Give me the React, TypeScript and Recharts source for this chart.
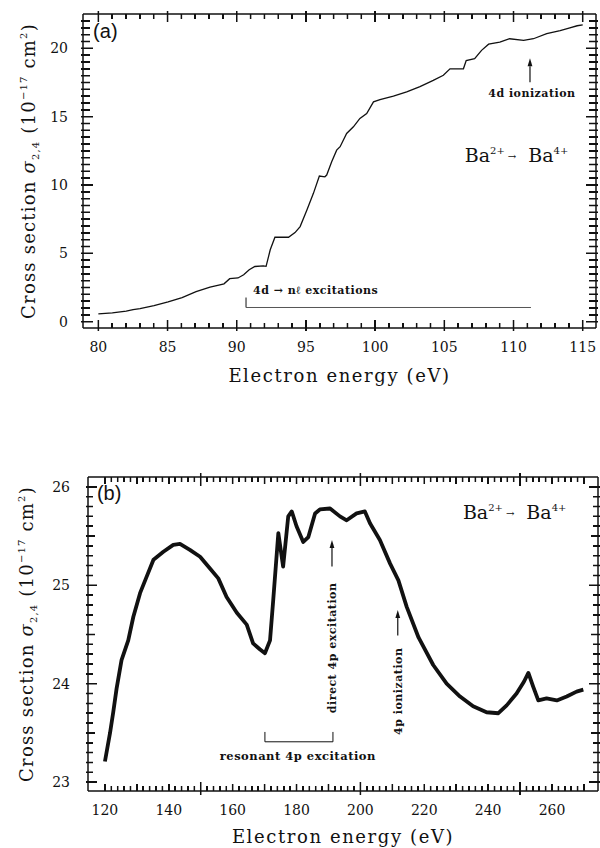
import React from 'react'
import { LineChart, Line, XAxis, YAxis, ReferenceLine, ReferenceDot } from 'recharts'

// (a) Ba2+ -> Ba4+ near the 4d threshold
const panelAEnergy = [
  80.0, 81.01, 82.01, 82.51, 83.01, 84.02, 85.04, 86.05, 87.06, 88.07, 88.78, 89.08, 89.49, 90.09,
  90.5, 90.9, 91.31, 91.92, 92.12, 92.42, 92.76, 93.13, 93.74, 94.21, 94.58, 95.07, 95.54, 95.97,
  96.37, 96.5, 96.86, 97.22, 97.47, 97.94, 98.43, 98.9, 99.39, 99.88, 100.35, 101.32, 102.28,
  103.24, 104.2, 104.93, 105.41, 106.38, 106.58, 107.19, 107.69, 108.2, 109.01, 109.72, 110.73,
  111.44, 112.4, 113.37, 114.07, 114.6, 115.0,
]
const panelASigma = [
  0.58, 0.65, 0.78, 0.88, 0.95, 1.17, 1.45, 1.77, 2.2, 2.53, 2.7, 2.77, 3.15, 3.2,
  3.43, 3.8, 4.04, 4.09, 4.05, 5.26, 6.18, 6.18, 6.18, 6.52, 6.96, 8.18, 9.39, 10.66,
  10.6, 10.73, 11.7, 12.55, 12.8, 13.77, 14.26, 14.87, 15.23, 16.08, 16.25, 16.5, 16.81,
  17.2, 17.66, 18.03, 18.5, 18.5, 19.1, 19.25, 19.85, 20.3, 20.46, 20.7, 20.58,
  20.7, 21.07, 21.3, 21.5, 21.65, 21.72,
]

// (b) Ba2+ -> Ba4+ around the 4p region
const panelBEnergy = [
  120.0, 121.6, 122.6, 123.65, 125.2, 127.3, 128.9, 131.0, 133.1, 135.2, 138.3, 141.4, 143.5,
  146.6, 149.8, 152.9, 155.5, 158.1, 161.3, 164.4, 166.4, 168.5, 170.1, 171.7, 172.7, 174.3,
  175.8, 177.4, 178.5, 180.0, 182.1, 183.7, 185.8, 187.3, 190.5, 193.6, 195.7, 198.8, 201.4,
  203.0, 206.1, 209.3, 211.9, 214.5, 218.2, 222.8, 227.0, 231.2, 235.3, 239.5, 243.2, 245.8,
  248.9, 251.2, 252.6, 254.1, 255.7, 258.3, 261.5, 264.6, 267.7, 269.8,
]
const panelBSigma = [
  23.21, 23.5, 23.71, 23.95, 24.24, 24.44, 24.68, 24.92, 25.09, 25.26, 25.34, 25.41, 25.42,
  25.36, 25.29, 25.17, 25.07, 24.88, 24.72, 24.6, 24.41, 24.35, 24.31, 24.44, 24.85, 25.53,
  25.19, 25.7, 25.75, 25.6, 25.44, 25.49, 25.73, 25.77, 25.78, 25.7, 25.66, 25.73, 25.75,
  25.63, 25.46, 25.22, 25.05, 24.78, 24.47, 24.19, 24.0, 23.87, 23.77, 23.71, 23.7, 23.78,
  23.9, 24.02, 24.11, 23.97, 23.83, 23.85, 23.83, 23.87, 23.92, 23.94,
]

const panelAXLabels = [80, 85, 90, 95, 100, 105, 110, 115]
const panelAYLabels = [0, 5, 10, 15, 20]
const panelBXLabels = [120, 140, 160, 180, 200, 220, 240, 260]
const panelBYLabels = [23, 24, 25, 26]

const INK = '#111'
const SERIF = "'DejaVu Serif', serif"
const SANS = "'Liberation Sans', sans-serif"

const range = (a: number, b: number, step: number) => {
  const out: number[] = []
  for (let i = 0; a + i * step <= b + 1e-9; i++) out.push(+(a + i * step).toFixed(3))
  return out
}
const onStep = (v: number, m: number) => Math.abs(v / m - Math.round(v / m)) < 1e-6

// axis labels (major values only)
const xLabel = (p: any) => (
  <text x={p.x} y={Number(p.y) + 24} textAnchor="middle" fontFamily={SERIF} fontSize={14} fill={INK}>{p.payload.value}</text>
)
const yLabel = (gap: number) => (p: any) => (
  <text x={Number(p.x) - gap} y={Number(p.y) + 5} textAnchor="end" fontFamily={SERIF} fontSize={14} fill={INK}>{Math.round(p.payload.value)}</text>
)

type Frame = { x: [number, number]; y: [number, number] }
type Box = { left: number; right: number; top: number; bottom: number }
type TickSpec = {
  frame: Frame
  xt: number[]
  yt: number[]
  xLen: (v: number) => number
  yLen: (v: number) => number
  xOut: (v: number) => number
  yOut: (v: number) => number
}

// tick marks from one reference segment running first tick -> last tick (axis scales give its ends)
const frameTicks = (s: TickSpec) => (p: any) => {
  const { x1, y1, x2, y2 } = p
  const ax0 = s.xt[0]
  const ax1 = s.xt[s.xt.length - 1]
  const ay0 = s.yt[0]
  const ay1 = s.yt[s.yt.length - 1]
  const X = (v: number) => x1 + ((v - ax0) / (ax1 - ax0)) * (x2 - x1)
  const Y = (v: number) => y1 + ((v - ay0) / (ay1 - ay0)) * (y2 - y1)
  const L = X(s.frame.x[0])
  const R = X(s.frame.x[1])
  const B = Y(s.frame.y[0])
  const T = Y(s.frame.y[1])
  let d = ''
  s.xt.forEach((v) => {
    const x = X(v).toFixed(2)
    d += `M${x},${B + s.xOut(v)}V${B - s.xLen(v)}M${x},${T - s.xOut(v)}V${T + s.xLen(v)}`
  })
  s.yt.forEach((v) => {
    const y = Y(v).toFixed(2)
    d += `M${L - s.yOut(v)},${y}H${L + s.yLen(v)}M${R + s.yOut(v)},${y}H${R - s.yLen(v)}`
  })
  return <path d={d} stroke={INK} strokeWidth={1.5} fill="none" />
}

// same tick marks laid over the page as plain blocks, on the plot box of each chart
function TickOverlay({ s, box }: { s: TickSpec; box: Box }) {
  const X = (v: number) => box.left + ((v - s.frame.x[0]) / (s.frame.x[1] - s.frame.x[0])) * (box.right - box.left)
  const Y = (v: number) => box.bottom - ((v - s.frame.y[0]) / (s.frame.y[1] - s.frame.y[0])) * (box.bottom - box.top)
  const marks: { left: number; top: number; width: number; height: number }[] = []
  s.xt.forEach((v) => {
    const x = X(v)
    const len = s.xLen(v)
    const out = s.xOut(v)
    marks.push({ left: x - 0.75, top: box.bottom - len, width: 1.5, height: len + out })
    marks.push({ left: x - 0.75, top: box.top - out, width: 1.5, height: len + out })
  })
  s.yt.forEach((v) => {
    const y = Y(v)
    const len = s.yLen(v)
    const out = s.yOut(v)
    marks.push({ left: box.left - out, top: y - 0.75, width: len + out, height: 1.5 })
    marks.push({ left: box.right - len, top: y - 0.75, width: len + out, height: 1.5 })
  })
  return (
    <>
      {marks.map((m, i) => (
        <div key={i} style={{ position: 'absolute', background: INK, ...m }} />
      ))}
    </>
  )
}

const xTitle = (offset: number) => (p: any) => {
  const vb = p.viewBox || { x: 0, y: 0, width: 0, height: 0 }
  return (
    <text x={vb.x + vb.width / 2} y={vb.y + offset} textAnchor="middle" fontFamily={SERIF} fontSize={18} letterSpacing={1.6} fill={INK}>
      Electron energy (eV)
    </text>
  )
}

const yTitle = (baseX: number) => (p: any) => {
  const vb = p.viewBox || { x: 0, y: 0, width: 0, height: 0 }
  const cy = vb.y + vb.height / 2
  return (
    <text transform={`translate(${vb.x + baseX},${cy}) rotate(-90)`} textAnchor="middle" fontFamily={SERIF} fontSize={18} letterSpacing={1.2} fill={INK}>
      Cross section <tspan fontStyle="italic">σ</tspan>
      <tspan fontSize={10} dy={4}>2,4</tspan>
      <tspan dy={-4}>{'  '}(10</tspan>
      <tspan fontSize={10} dy={-8}>−17</tspan>
      <tspan dy={8}> cm</tspan>
      <tspan fontSize={10} dy={-8}>2</tspan>
      <tspan dy={8}>)</tspan>
    </text>
  )
}

const note = (text: string, opts: { anchor?: string; rotate?: boolean; size?: number } = {}) => (p: any) => (
  <text
    x={p.cx}
    y={p.cy}
    transform={opts.rotate ? `rotate(-90 ${p.cx} ${p.cy})` : undefined}
    textAnchor={opts.anchor || 'start'}
    fontFamily={SERIF}
    fontWeight="bold"
    fontSize={opts.size || 11}
    letterSpacing={0.5}
    fill={INK}
  >
    {text}
  </text>
)

const reaction = (p: any) => (
  <text x={p.cx} y={p.cy} fontFamily={SERIF} fontSize={19} fill={INK}>
    Ba<tspan fontSize={10} dy={-8}>2+</tspan>
    <tspan fontSize={10} dx={3} dy={6}>→</tspan>
    <tspan dx={12} dy={2}>Ba</tspan>
    <tspan fontSize={10} dy={-8}>4+</tspan>
  </text>
)

const panelTag = (tag: string) => (p: any) => (
  <text x={p.cx} y={p.cy} fontFamily={SANS} fontSize={20} fill={INK}>{tag}</text>
)

const arrowShape = (p: any) => {
  const { x1, y1, x2, y2 } = p
  const ang = Math.atan2(y2 - y1, x2 - x1)
  const L = 8
  const W = 2.4
  const bx = x2 - L * Math.cos(ang)
  const by = y2 - L * Math.sin(ang)
  const nx = -Math.sin(ang) * W
  const ny = Math.cos(ang) * W
  return (
    <g>
      <line x1={x1} y1={y1} x2={bx} y2={by} stroke={INK} strokeWidth={1.2} />
      <polygon points={`${x2},${y2} ${bx + nx},${by + ny} ${bx - nx},${by - ny}`} fill={INK} />
    </g>
  )
}

const dataA = panelAEnergy.map((e, i) => ({ e, s: panelASigma[i] }))
const dataB = panelBEnergy.map((e, i) => ({ e, s: panelBSigma[i] }))

const frameA: Frame = { x: [78.89, 115.96], y: [-0.46, 22.51] }
const frameB: Frame = { x: [114.7, 274.4], y: [22.91, 26.1] }

// plot boxes on the page (chart size minus axis widths/heights, plus the chart's top offset)
const boxA: Box = { left: 83, right: 596, top: 14, bottom: 328 }
const boxB: Box = { left: 88, right: 598, top: 477, bottom: 791 }

const ticksA: TickSpec = {
  frame: frameA,
  xt: range(80, 115, 1),
  yt: range(0, 22, 0.5),
  xLen: (v) => (onStep(v, 5) ? 8 : 5),
  yLen: (v) => (onStep(v, 5) ? 10 : 7),
  xOut: (v) => (onStep(v, 5) ? 3 : 0),
  yOut: () => 2,
}
const ticksB: TickSpec = {
  frame: frameB,
  xt: range(120, 270, 2),
  yt: range(23, 26, 0.1),
  xLen: (v) => (onStep(v, 50) ? 9 : onStep(v, 10) ? 7 : 5),
  yLen: (v) => (onStep(v, 1) ? 9 : onStep(v, 0.5) ? 7 : 5),
  xOut: (v) => (onStep(v, 50) ? 4 : 0),
  yOut: () => 2,
}
const tickSegment = (s: TickSpec) => [
  { x: s.xt[0], y: s.yt[0] },
  { x: s.xt[s.xt.length - 1], y: s.yt[s.yt.length - 1] },
]

const axisCommon = { type: 'number' as const, allowDataOverflow: true, interval: 0, tickSize: 0, tickMargin: 0, tickLine: false, axisLine: { stroke: INK, strokeWidth: 1.5 } }

function PanelA() {
  return (
    <LineChart width={600} height={400} data={dataA} margin={{ top: 0, right: 0, bottom: 0, left: 0 }}>
      <XAxis {...axisCommon} dataKey="e" domain={frameA.x} ticks={panelAXLabels} height={72} tick={xLabel} label={xTitle(54)} />
      <XAxis {...axisCommon} xAxisId="t" orientation="top" dataKey="e" domain={frameA.x} ticks={panelAXLabels} height={14} tick={false} />
      <YAxis {...axisCommon} domain={frameA.y} ticks={panelAYLabels} width={83} tick={yLabel(15)} label={yTitle(35)} />
      <YAxis {...axisCommon} yAxisId="r" orientation="right" domain={frameA.y} ticks={panelAYLabels} width={4} tick={false} />
      <ReferenceLine segment={tickSegment(ticksA)} shape={frameTicks(ticksA)} />
      <Line dataKey="s" type="linear" stroke={INK} strokeWidth={1.3} dot={false} isAnimationActive={false} />
      <ReferenceLine segment={[{ x: 90.67, y: 1.77 }, { x: 90.67, y: 1.04 }]} stroke={INK} strokeWidth={1} />
      <ReferenceLine segment={[{ x: 90.67, y: 1.04 }, { x: 111.26, y: 1.04 }]} stroke="#555" strokeWidth={1} />
      <ReferenceLine segment={[{ x: 111.19, y: 17.52 }, { x: 111.19, y: 19.27 }]} shape={arrowShape} />
      <ReferenceDot x={91.18} y={2.04} r={0} shape={note('4d → nℓ excitations')} />
      <ReferenceDot x={111.33} y={16.42} r={0} shape={note('4d ionization', { anchor: 'middle' })} />
      <ReferenceDot x={106.48} y={11.68} r={0} shape={reaction} />
      <ReferenceDot x={79.62} y={20.73} r={0} shape={panelTag('(a)')} />
    </LineChart>
  )
}

function PanelB() {
  return (
    <LineChart width={600} height={428} data={dataB} margin={{ top: 0, right: 0, bottom: 0, left: 0 }}>
      <XAxis {...axisCommon} dataKey="e" domain={frameB.x} ticks={panelBXLabels} height={57} tick={xLabel} label={xTitle(52)} />
      <XAxis {...axisCommon} xAxisId="t" orientation="top" dataKey="e" domain={frameB.x} ticks={panelBXLabels} height={57} tick={false} />
      <YAxis {...axisCommon} domain={frameB.y} ticks={panelBYLabels} width={88} tick={yLabel(18)} label={yTitle(33)} />
      <YAxis {...axisCommon} yAxisId="r" orientation="right" domain={frameB.y} ticks={panelBYLabels} width={2} tick={false} />
      <ReferenceLine segment={tickSegment(ticksB)} shape={frameTicks(ticksB)} />
      <Line dataKey="s" type="linear" stroke={INK} strokeWidth={3.8} strokeLinejoin="round" dot={false} isAnimationActive={false} />
      <ReferenceLine segment={[{ x: 170.1, y: 23.51 }, { x: 170.1, y: 23.41 }]} stroke={INK} strokeWidth={1} />
      <ReferenceLine segment={[{ x: 170.1, y: 23.41 }, { x: 191.4, y: 23.41 }]} stroke={INK} strokeWidth={1} />
      <ReferenceLine segment={[{ x: 191.4, y: 23.41 }, { x: 191.4, y: 23.51 }]} stroke={INK} strokeWidth={1} />
      <ReferenceLine segment={[{ x: 191.1, y: 25.19 }, { x: 191.1, y: 25.46 }]} shape={arrowShape} />
      <ReferenceLine segment={[{ x: 211.7, y: 24.49 }, { x: 211.7, y: 24.75 }]} shape={arrowShape} />
      <ReferenceDot x={180.4} y={23.22} r={0} shape={note('resonant 4p excitation', { anchor: 'middle', size: 11.5 })} />
      <ReferenceDot x={192.3} y={23.7} r={0} shape={note('direct 4p excitation', { rotate: true })} />
      <ReferenceDot x={213.0} y={23.48} r={0} shape={note('4p ionization', { rotate: true })} />
      <ReferenceDot x={232.1} y={25.67} r={0} shape={reaction} />
      <ReferenceDot x={117.5} y={25.87} r={0} shape={panelTag('(b)')} />
    </LineChart>
  )
}

export default function App() {
  return (
    <div style={{ position: 'absolute', left: 0, top: 0, width: 600, height: 848, background: '#fff' }}>
      <div style={{ position: 'absolute', left: 0, top: 0 }}>
        <PanelA />
      </div>
      <div style={{ position: 'absolute', left: 0, top: 420 }}>
        <PanelB />
      </div>
      <div style={{ position: 'absolute', left: 0, top: 0, width: 600, height: 848, pointerEvents: 'none', zIndex: 2 }}>
        <TickOverlay s={ticksA} box={boxA} />
        <TickOverlay s={ticksB} box={boxB} />
      </div>
    </div>
  )
}
